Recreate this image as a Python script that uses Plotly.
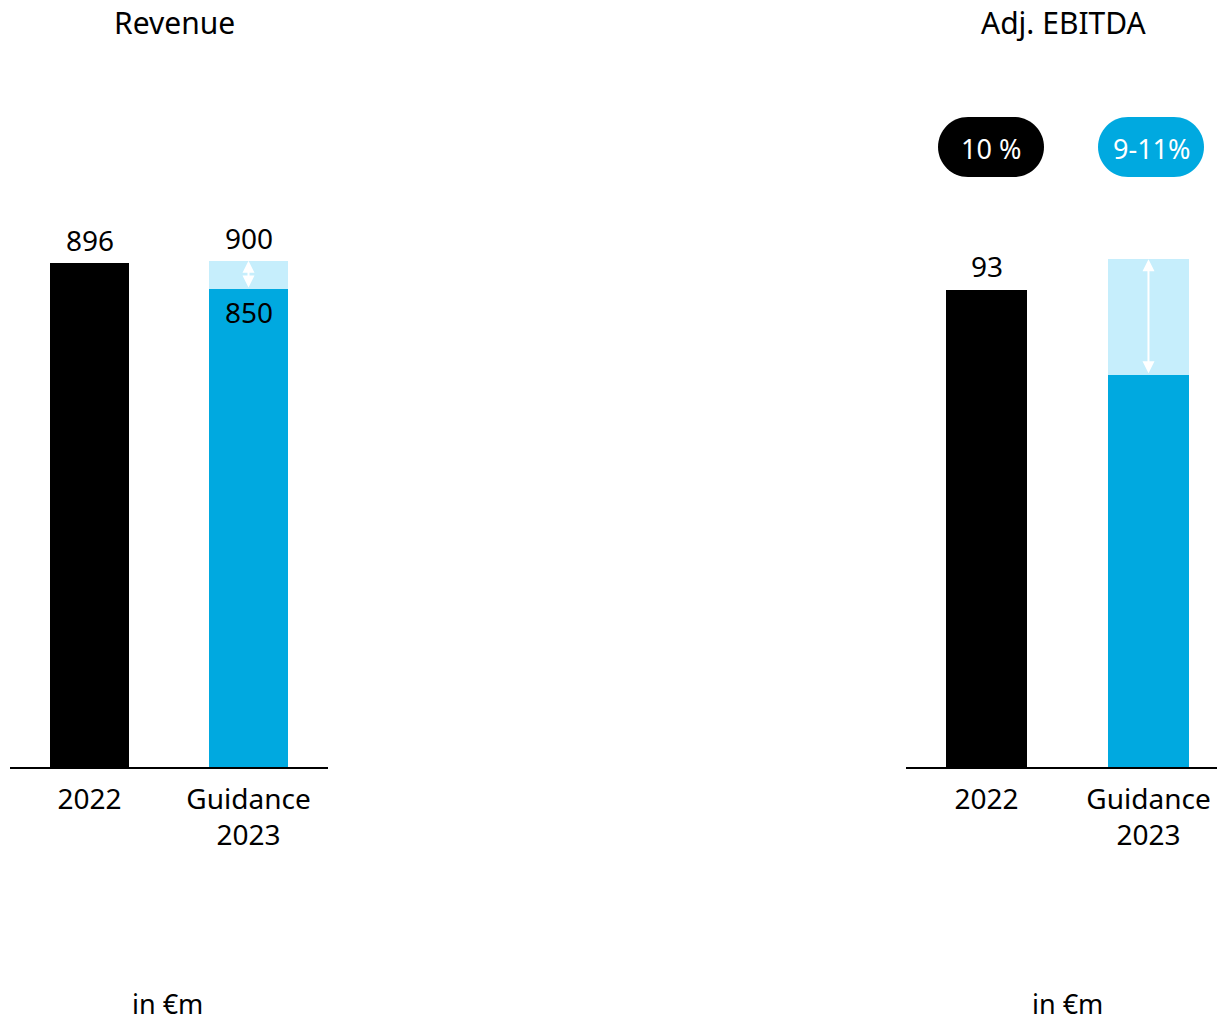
import plotly.graph_objects as go

categories = ["2022", "Guidance<br>2023"]
rev_actual = 896
rev_low, rev_high = 850, 900
ebitda_actual = 93
ebitda_low, ebitda_high = 76.5, 99
margin_labels = ["10 %", "9-11%"]
titles = ["Revenue", "Adj. EBITDA"]
unit = "in €m"

BLACK = "#000000"
BLUE = "#00a9e0"
LIGHT = "#c6eefc"
FONT = "Noto Sans"
W, H = 1217, 1022

fig = go.Figure()

def add_panel(xa, ya, actual, low, high):
    fig.add_trace(go.Bar(x=[categories[0]], y=[actual], marker=dict(color=BLACK, line=dict(width=0)),
                         width=0.503, xaxis=xa, yaxis=ya, showlegend=False))
    fig.add_trace(go.Bar(x=[categories[1]], y=[low], marker=dict(color=BLUE, line=dict(width=0)),
                         width=0.503, xaxis=xa, yaxis=ya, showlegend=False))
    fig.add_trace(go.Bar(x=[categories[1]], y=[high - low], base=[low],
                         marker=dict(color=LIGHT, line=dict(width=0)),
                         width=0.503, xaxis=xa, yaxis=ya, showlegend=False))
    # double arrow
    fig.add_annotation(x=1, y=high, ax=1, ay=low, xref=xa, yref=ya,
                       axref=xa, ayref=ya, showarrow=True, arrowhead=2, arrowside="end+start",
                       arrowsize=1.2, arrowwidth=2, arrowcolor="white", text="")

add_panel("x", "y", rev_actual, rev_low, rev_high)
add_panel("x2", "y2", ebitda_actual, ebitda_low, ebitda_high)

# value labels
lab_font = dict(family=FONT, size=28, color="black")
def label(xa, ya, xi, yv, txt, shift):
    fig.add_annotation(x=xi, y=yv, xref=xa, yref=ya, text=txt, showarrow=False,
                       xanchor="center", yanchor="middle", yshift=shift, font=lab_font)

label("x", "y", 0, rev_actual, str(rev_actual), 23)
label("x", "y", 1, rev_high, str(rev_high), 23)
label("x", "y", 1, rev_low, str(rev_low), -23)
label("x2", "y2", 0, ebitda_actual, str(ebitda_actual), 24)

def ptext(px, py, txt, size, color="black"):
    fig.add_annotation(x=px / W, y=1 - py / H, xref="paper", yref="paper", text=txt,
                       showarrow=False, xanchor="center", yanchor="middle",
                       font=dict(family=FONT, size=size, color=color))

# titles and units
ptext(174, 22, titles[0], 30)
ptext(1064, 22, titles[1], 30)
ptext(167, 1003, unit, 27)
ptext(1067, 1003, unit, 27)

# pills
def pill_path(w, h):
    r = h / 2
    s = w / 2 - r
    k = 0.5523 * r
    return (f"M {-s},{-r} L {s},{-r} C {s + k},{-r} {s + r},{-k} {s + r},0 "
            f"C {s + r},{k} {s + k},{r} {s},{r} L {-s},{r} "
            f"C {-s - k},{r} {-s - r},{k} {-s - r},0 C {-s - r},{-k} {-s - k},{-r} {-s},{-r} Z")

for cx, col, txt in [(991, BLACK, margin_labels[0]), (1151, BLUE, margin_labels[1])]:
    fig.add_shape(type="path", xref="paper", yref="paper", xsizemode="pixel", ysizemode="pixel",
                  xanchor=cx / W, yanchor=1 - 147 / H, path=pill_path(106, 60),
                  fillcolor=col, line=dict(width=0))
    ptext(cx, 148, txt, 27, "white")

ybot = (H - 767) / H
ytop = (H - 100) / H
axis_common = dict(type="category", showline=True, linecolor="black", linewidth=2, ticks="",
                   showgrid=False, ticklabelstandoff=6,
                   tickfont=dict(family=FONT, size=28, color="black"), fixedrange=True)
fig.update_layout(
    width=W, height=H, margin=dict(l=0, r=0, t=0, b=0),
    paper_bgcolor="white", plot_bgcolor="white", barmode="overlay", bargap=0,
    xaxis=dict(domain=[10 / W, 328 / W], range=[-0.5, 1.5], anchor="y", **axis_common),
    xaxis2=dict(domain=[906 / W, 1.0], range=[-0.497, 1.423], anchor="y2", **axis_common),
    yaxis=dict(domain=[ybot, ytop], range=[0, 667 / 0.5625], visible=False, anchor="x"),
    yaxis2=dict(domain=[ybot, ytop], range=[0, 667 / 5.129], visible=False, anchor="x2"),
)

fig.write_html("out.html")
